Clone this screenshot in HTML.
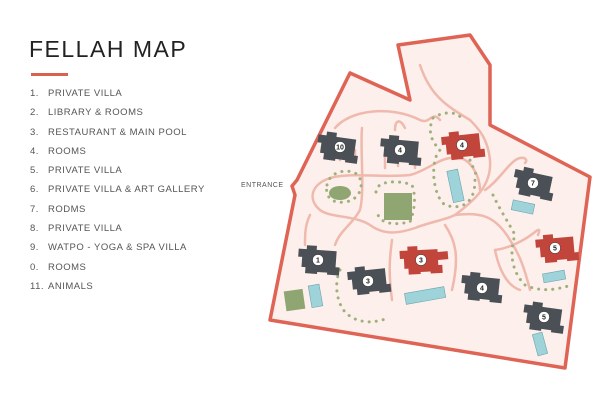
<!DOCTYPE html>
<html><head><meta charset="utf-8"><style>
body{margin:0;width:600px;height:400px;background:#fff;font-family:"Liberation Sans",sans-serif;overflow:hidden;position:relative}
h1{position:absolute;left:29px;top:36px;margin:0;font-weight:normal;font-size:23px;letter-spacing:1.5px;color:#222}
.bar{position:absolute;left:31px;top:73px;width:37px;height:3px;background:#d9614f}
ol{list-style:none;margin:0;padding:0;position:absolute;left:30px;top:88px;font-size:9.5px;color:#555;letter-spacing:.5px}
li{height:19.3px;line-height:12px}
li span{display:inline-block;width:18px}
.ent{position:absolute;left:241px;top:182px;font-size:7px;color:#555;letter-spacing:.5px}
</style></head><body>
<h1>FELLAH MAP</h1><div class="bar"></div>
<ol>
<li><span>1.</span>PRIVATE VILLA</li>
<li><span>2.</span>LIBRARY &amp; ROOMS</li>
<li><span>3.</span>RESTAURANT &amp; MAIN POOL</li>
<li><span>4.</span>ROOMS</li>
<li><span>5.</span>PRIVATE VILLA</li>
<li><span>6.</span>PRIVATE VILLA &amp; ART GALLERY</li>
<li><span>7.</span>RODMS</li>
<li><span>8.</span>PRIVATE VILLA</li>
<li><span>9.</span>WATPO - YOGA &amp; SPA VILLA</li>
<li><span>0.</span>ROOMS</li>
<li><span>11.</span>ANIMALS</li>
</ol>
<div class="ent">ENTRANCE</div>
<svg width="600" height="400" style="position:absolute;left:0;top:0">
<defs>
<g id="b"><path d="M-20,-10 h8 v-4 h10 v4 h20 v16 h4 v8 h-12 v-2 h-10 v2 h-12 v-6 h-4 v-10 h-4z"/></g>
</defs>
<polygon points="398,45 470,35 490,65 490,125 590,177 565,368 270,320 295,195 292,186 297,180 350,73 410,100" fill="#fdefeb" stroke="#df6455" stroke-width="3.5" stroke-linejoin="round"/>
<g fill="none" stroke="#efb9ad" stroke-width="2.5" stroke-linecap="round">
<path d="M420,65 C430,95 445,105 470,120 C480,130 488,140 490,160 C492,185 475,200 455,215 C445,220 430,222 415,228 C400,233 385,236 370,225 C355,215 330,218 320,210 C308,200 310,185 330,178 C350,172 380,178 410,175 C430,170 440,155 460,158 C470,160 480,175 480,190"/>
<path d="M335,128 C350,110 390,105 420,120 C430,125 432,110 440,120"/>
<path d="M362,128 C360,150 365,190 360,210 C352,225 340,230 335,245"/>
<path d="M395,130 C395,120 400,118 405,128"/>
<path d="M340,160 v-12 M355,162 v-12 M385,168 v-12 M398,166 v-12 M415,168 v-12"/>
<path d="M310,215 C305,225 305,235 305,245"/>
<path d="M392,240 C390,255 388,270 392,300"/>
<path d="M445,225 C455,240 460,255 452,290"/>
<path d="M455,215 C480,212 495,215 510,240 C520,255 525,270 530,290"/>
<path d="M485,190 C500,180 510,160 520,158 C525,157 528,160 525,163"/>
<path d="M495,250 C510,248 525,240 535,232 C540,228 540,230 538,235"/>
<path d="M495,250 C498,265 505,285 520,290"/>
</g>
<g fill="none" stroke="#9fb07a" stroke-width="3" stroke-dasharray="0.1 7" stroke-linecap="round">
<path d="M433,118 C445,110 460,112 462,120 M433,118 C428,130 430,140 440,150 C430,160 432,195 445,205 C460,210 475,205 475,180 C478,170 470,165 470,160"/>
<path d="M327,185 C330,170 350,168 358,175 C365,185 360,200 345,202 C330,204 325,195 327,185"/>
<path d="M376,192 C376,180 400,180 412,185 C416,195 415,210 410,222 C395,225 380,225 377,212"/>
<path d="M340,270 C335,280 335,300 345,312 C355,322 370,325 388,318"/>
<path d="M493,195 C500,210 510,225 515,235 C510,250 510,270 525,285 C540,292 555,290 568,286"/>
</g>
<g fill="#8fa572"><rect x="384" y="193" width="28" height="27"/><ellipse cx="340" cy="193" rx="11" ry="7"/><rect x="285" y="290" width="19" height="20" transform="rotate(-8 295 300)"/></g>
<g fill="#9fd3da" stroke="#6aa5ae" stroke-width=".6">
<rect x="450" y="170" width="11" height="32" transform="rotate(-12 455 186)"/>
<rect x="512" y="202" width="22" height="10" transform="rotate(12 523 207)"/>
<rect x="543" y="272" width="22" height="9" transform="rotate(-10 554 276)"/>
<rect x="405" y="290" width="40" height="11" transform="rotate(-10 425 295)"/>
<rect x="310" y="285" width="11" height="22" transform="rotate(-10 315 296)"/>
<rect x="535" y="333" width="10" height="22" transform="rotate(-15 540 344)"/>
</g>
<g fill="#4a5055">
<use href="#b" transform="translate(337,147) rotate(8)"/>
<use href="#b" transform="translate(400,150) rotate(5)"/>
<use href="#b" transform="translate(533,183) rotate(12)"/>
<use href="#b" transform="translate(543,317) rotate(8)"/>
<use href="#b" transform="translate(481,287) rotate(6)"/>
<use href="#b" transform="translate(368,280) rotate(-6)"/>
<use href="#b" transform="translate(318,260) rotate(4)"/>
</g>
<g fill="#c2453b">
<use href="#b" transform="translate(462,145) rotate(-6)"/>
<use href="#b" transform="translate(556,248) rotate(-5)"/>
<use href="#b" transform="translate(420,260) rotate(-3)"/>
<rect x="428" y="252" width="20" height="8" transform="rotate(-5 438 256)"/>
</g>
<g fill="#fff" stroke="#333" stroke-width=".5">
<circle cx="340" cy="147" r="5.5"/><circle cx="400" cy="150" r="5.5"/><circle cx="462" cy="145" r="5.5"/><circle cx="533" cy="183" r="5.5"/><circle cx="555" cy="248" r="5.5"/><circle cx="544" cy="317" r="5.5"/><circle cx="482" cy="288" r="5.5"/><circle cx="421" cy="260" r="5.5"/><circle cx="368" cy="281" r="5.5"/><circle cx="318" cy="260" r="5.5"/>
</g>
<g font-size="7" font-weight="bold" fill="#222" text-anchor="middle" font-family="Liberation Sans,sans-serif">
<text x="340" y="149.5">10</text><text x="400" y="152.5">4</text><text x="462" y="147.5">4</text><text x="533" y="185.5">7</text><text x="555" y="250.5">5</text><text x="544" y="319.5">5</text><text x="482" y="290.5">4</text><text x="421" y="262.5">3</text><text x="368" y="283.5">3</text><text x="318" y="262.5">1</text>
</g>
</svg>
</body></html>
